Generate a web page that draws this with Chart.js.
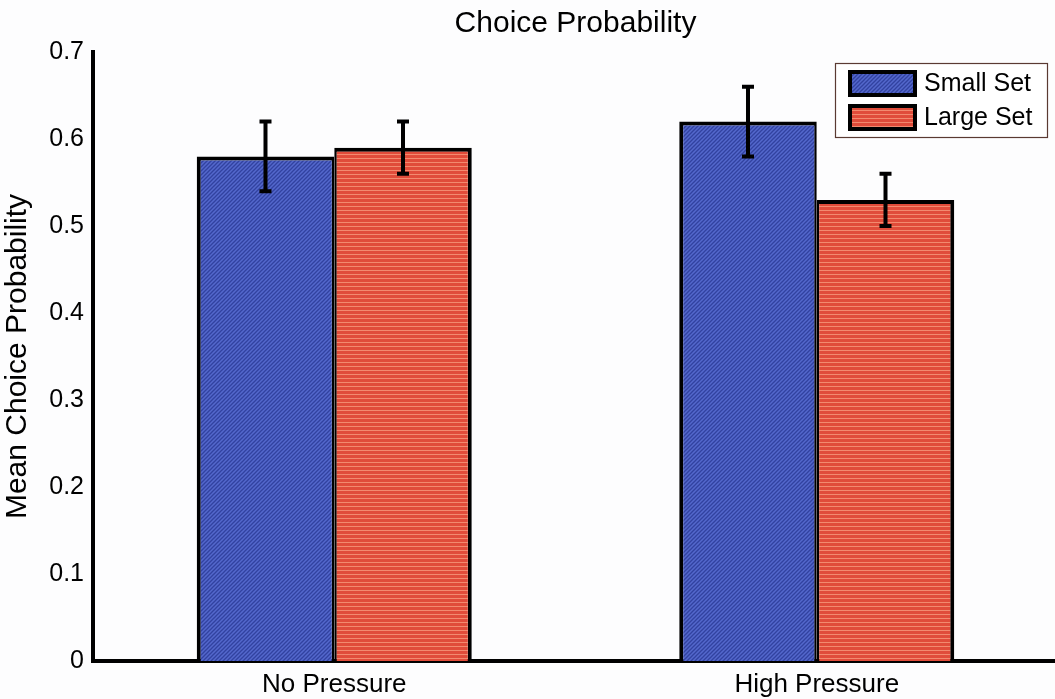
<!DOCTYPE html>
<html>
<head>
<meta charset="utf-8">
<script src="https://cdn.jsdelivr.net/npm/chart.js@4.4.0/dist/chart.umd.min.js"></script>
<style>
html, body { margin: 0; padding: 0; background: #fdfdfe; overflow: hidden; }
#wrap { width: 1055px; height: 699px; overflow: hidden; }
canvas { display: block; }
</style>
</head>
<body>
<div id="wrap"><canvas id="choiceChart" width="1058" height="699"></canvas></div>
<script>
// datos
const categories = ['No Pressure', 'High Pressure'];
const seriesNames = ['Small Set', 'Large Set'];
const smallSet = [0.58, 0.62];
const largeSet = [0.59, 0.53];
const smallSetErr = [0.04, 0.04];
const largeSetErr = [0.03, 0.03];
const yTicks = [0, 0.1, 0.2, 0.3, 0.4, 0.5, 0.6, 0.7];
const yTickLabels = ['0', '0.1', '0.2', '0.3', '0.4', '0.5', '0.6', '0.7'];

const FONT = "'Liberation Sans', Arial, sans-serif";

// texturas de las barras (rayado diagonal azul, rayas horizontales rojas)
function makePattern(kind) {
    const c = document.createElement('canvas');
    c.width = 4; c.height = 4;
    const g = c.getContext('2d');
    if (kind === 'diag') {
        g.fillStyle = '#5468cc';
        g.fillRect(0, 0, 4, 4);
        g.strokeStyle = '#3242a0';
        g.lineWidth = 1.3;
        g.beginPath(); g.moveTo(-1, 5); g.lineTo(5, -1); g.stroke();
        g.beginPath(); g.moveTo(-1, 1); g.lineTo(1, -1); g.stroke();
        g.beginPath(); g.moveTo(3, 5); g.lineTo(5, 3); g.stroke();
    } else {
        g.fillStyle = '#e04c3a';
        g.fillRect(0, 0, 4, 4);
        g.fillStyle = '#f28a6f';
        g.fillRect(0, 2, 4, 1);
    }
    return g.createPattern(c, 'repeat');
}

const bluePattern = makePattern('diag');
const redPattern = makePattern('horiz');

// barras de error
const errorBars = {
    id: 'errorBars',
    afterDatasetsDraw(chart) {
        const ctx = chart.ctx;
        const y = chart.scales.y;
        ctx.save();
        ctx.strokeStyle = '#000';
        ctx.lineWidth = 4;
        chart.data.datasets.forEach((ds, di) => {
            const meta = chart.getDatasetMeta(di);
            meta.data.forEach((bar, i) => {
                const v = ds.data[i];
                const e = ds.errors[i];
                const yTop = y.getPixelForValue(v + e);
                const yBot = y.getPixelForValue(v - e);
                const x = bar.x;
                ctx.beginPath();
                ctx.moveTo(x, yTop); ctx.lineTo(x, yBot);
                ctx.moveTo(x - 6, yTop); ctx.lineTo(x + 6, yTop);
                ctx.moveTo(x - 6, yBot); ctx.lineTo(x + 6, yBot);
                ctx.stroke();
            });
        });
        ctx.restore();
    }
};

// leyenda dentro del area del grafico, arriba a la derecha
const boxLegend = {
    id: 'boxLegend',
    afterDraw(chart) {
        const ctx = chart.ctx;
        const bx = 835, by = 63, bw = 212, bh = 74;
        ctx.save();
        ctx.fillStyle = '#ffffff';
        ctx.fillRect(bx, by, bw, bh);
        ctx.strokeStyle = '#5a3a32';
        ctx.lineWidth = 1.2;
        ctx.strokeRect(bx + 0.5, by + 0.5, bw, bh);
        chart.data.datasets.forEach((ds, i) => {
            const sy = 70 + i * 34;
            ctx.fillStyle = ds.backgroundColor;
            ctx.fillRect(848, sy, 69, 27);
            ctx.strokeStyle = '#000';
            ctx.lineWidth = 4;
            ctx.strokeRect(850, sy + 2, 65, 23);
            ctx.fillStyle = '#000';
            ctx.font = '25px ' + FONT;
            ctx.textBaseline = 'middle';
            ctx.textAlign = 'left';
            ctx.fillText(ds.label, 924, sy + 14);
        });
        ctx.restore();
    }
};

const ctx = document.getElementById('choiceChart');
new Chart(ctx, {
    type: 'bar',
    data: {
        labels: categories,
        datasets: [
            {
                label: seriesNames[0],
                data: smallSet,
                errors: smallSetErr,
                backgroundColor: bluePattern,
                borderColor: '#000',
                borderWidth: { top: 4, left: 4, right: 2.5, bottom: 0 }
            },
            {
                label: seriesNames[1],
                data: largeSet,
                errors: largeSetErr,
                backgroundColor: redPattern,
                borderColor: '#000',
                borderWidth: { top: 4, left: 2.5, right: 4, bottom: 0 }
            }
        ]
    },
    options: {
        responsive: false,
        animation: false,
        layout: { padding: 0 },
        datasets: {
            bar: { categoryPercentage: 0.57, barPercentage: 1.0 }
        },
        plugins: {
            legend: { display: false },
            tooltip: { enabled: false },
            title: {
                display: true,
                fullSize: false,
                text: 'Choice Probability',
                color: '#000',
                font: { family: FONT, size: 30, weight: 'normal' },
                padding: { top: 6, bottom: 10 }
            }
        },
        scales: {
            x: {
                z: 1,
                grid: { display: false, drawTicks: false },
                border: { display: true, color: '#000', width: 4 },
                ticks: {
                    color: '#000',
                    padding: 8,
                    font: { family: FONT, size: 26 }
                },
                afterFit(scale) { scale.height = 38; }
            },
            y: {
                min: 0,
                max: 0.7,
                grid: { display: false, drawTicks: false },
                border: { display: true, color: '#000', width: 4 },
                afterBuildTicks(scale) {
                    scale.ticks = yTicks.map(v => ({ value: v }));
                },
                ticks: {
                    color: '#000',
                    padding: 9,
                    font: { family: FONT, size: 25 },
                    callback: function(value, index) { return yTickLabels[index]; }
                },
                title: {
                    display: true,
                    text: 'Mean Choice Probability',
                    color: '#000',
                    font: { family: FONT, size: 30 },
                    padding: { top: 0, bottom: 0 }
                },
                afterFit(scale) { scale.width = 93; }
            }
        }
    },
    plugins: [errorBars, boxLegend]
});
</script>
</body>
</html>
